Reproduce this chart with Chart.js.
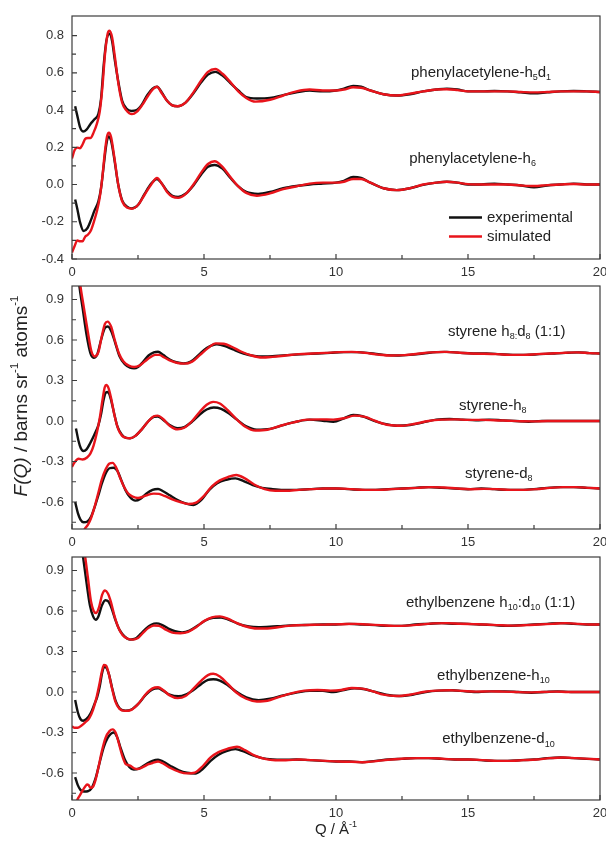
<!DOCTYPE html>
<html><head><meta charset="utf-8">
<script src="https://cdn.jsdelivr.net/npm/chart.js@4/dist/chart.umd.min.js"></script>
<style>
html,body{margin:0;padding:0;background:#fff;overflow:hidden;width:606px;height:841px;position:relative;}
canvas{position:absolute;left:0;}
</style></head><body>
<canvas id="c1" width="620" height="280" style="top:0px;width:620px;height:280px"></canvas>
<canvas id="c2" width="620" height="272" style="top:280px;width:620px;height:272px"></canvas>
<canvas id="c3" width="620" height="289" style="top:552px;width:620px;height:289px"></canvas>
<script>
// ---------- tick labels ----------
const xTicks = [0, 5, 10, 15, 20];
const xMinor = [2.5, 7.5, 12.5, 17.5];
const yTicks1 = [-0.4, -0.2, 0.0, 0.2, 0.4, 0.6, 0.8];
const yMinor1 = [-0.3, -0.1, 0.1, 0.3, 0.5, 0.7];
const yTicks23 = [-0.6, -0.3, 0.0, 0.3, 0.6, 0.9];
const yMinor23 = [-0.75, -0.45, -0.15, 0.15, 0.45, 0.75];

// ---------- data: [Q, F(Q)] ----------
// phenylacetylene-h5d1 (offset +0.5)
const pa_h5d1_exp = [[0.12,0.42],[0.2,0.37],[0.3,0.31],[0.42,0.285],[0.55,0.295],[0.7,0.325],[0.85,0.35],[1.0,0.38],[1.1,0.46],[1.2,0.64],[1.3,0.77],[1.42,0.81],[1.52,0.77],[1.62,0.67],[1.77,0.54],[1.9,0.45],[2.05,0.41],[2.25,0.395],[2.45,0.40],[2.65,0.43],[2.85,0.48],[3.05,0.515],[3.22,0.525],[3.4,0.495],[3.6,0.45],[3.8,0.425],[4.0,0.42],[4.3,0.44],[4.6,0.49],[4.9,0.55],[5.15,0.59],[5.43,0.605],[5.7,0.585],[6.0,0.545],[6.3,0.505],[6.6,0.47],[7.0,0.462],[7.5,0.465],[8.0,0.48],[8.5,0.495],[9.0,0.505],[9.5,0.50],[10.0,0.505],[10.3,0.515],[10.65,0.53],[10.95,0.525],[11.3,0.505],[11.8,0.485],[12.3,0.478],[12.8,0.485],[13.3,0.50],[13.8,0.51],[14.2,0.515],[14.6,0.51],[15.0,0.50],[15.5,0.50],[16.0,0.502],[16.5,0.50],[17.0,0.495],[17.5,0.49],[18.0,0.495],[18.5,0.50],[19.0,0.502],[19.5,0.50],[20,0.497]];
const pa_h5d1_sim = [[0,0.14],[0.1,0.185],[0.2,0.198],[0.3,0.195],[0.4,0.215],[0.5,0.245],[0.6,0.25],[0.7,0.25],[0.82,0.28],[0.95,0.33],[1.05,0.39],[1.15,0.52],[1.25,0.70],[1.35,0.81],[1.42,0.826],[1.52,0.79],[1.62,0.69],[1.77,0.53],[1.9,0.44],[2.05,0.40],[2.27,0.378],[2.45,0.39],[2.65,0.425],[2.85,0.47],[3.05,0.51],[3.22,0.525],[3.4,0.49],[3.6,0.45],[3.8,0.425],[4.0,0.42],[4.3,0.44],[4.6,0.495],[4.9,0.56],[5.15,0.605],[5.43,0.62],[5.7,0.595],[6.0,0.55],[6.3,0.50],[6.6,0.465],[6.95,0.445],[7.5,0.455],[8.0,0.478],[8.5,0.50],[9.0,0.51],[9.5,0.505],[10.0,0.505],[10.3,0.51],[10.65,0.522],[10.95,0.52],[11.3,0.505],[11.8,0.485],[12.3,0.478],[12.8,0.488],[13.3,0.50],[13.8,0.51],[14.2,0.512],[14.6,0.507],[15.0,0.50],[15.5,0.50],[16.0,0.50],[16.5,0.50],[17.0,0.497],[17.5,0.495],[18.0,0.497],[18.5,0.50],[19.0,0.50],[19.5,0.50],[20,0.497]];
// phenylacetylene-h6
const pa_h6_exp = [[0.12,-0.08],[0.2,-0.13],[0.3,-0.2],[0.44,-0.25],[0.58,-0.235],[0.72,-0.19],[0.85,-0.14],[1.0,-0.09],[1.1,-0.02],[1.2,0.1],[1.3,0.215],[1.38,0.258],[1.48,0.235],[1.6,0.14],[1.75,0.0],[1.9,-0.085],[2.1,-0.12],[2.27,-0.128],[2.5,-0.11],[2.75,-0.05],[3.0,0.005],[3.22,0.03],[3.4,0.005],[3.6,-0.035],[3.8,-0.06],[4.02,-0.067],[4.3,-0.05],[4.6,-0.005],[4.9,0.055],[5.15,0.095],[5.4,0.105],[5.7,0.085],[6.0,0.035],[6.3,-0.01],[6.6,-0.04],[7.05,-0.05],[7.5,-0.04],[8.0,-0.02],[8.5,-0.008],[9.0,0.0],[9.5,0.005],[10.0,0.01],[10.3,0.02],[10.65,0.04],[10.95,0.035],[11.3,0.01],[11.8,-0.02],[12.3,-0.03],[12.8,-0.02],[13.3,-0.002],[13.8,0.01],[14.2,0.015],[14.6,0.01],[15.0,0.0],[15.5,0.0],[16.0,0.005],[16.5,0.0],[17.0,-0.005],[17.5,-0.015],[18.0,-0.005],[18.5,0.0],[19.0,0.005],[19.5,0.0],[20,0.0]];
const pa_h6_sim = [[0,-0.365],[0.1,-0.33],[0.2,-0.30],[0.3,-0.305],[0.4,-0.305],[0.5,-0.28],[0.6,-0.27],[0.72,-0.245],[0.85,-0.19],[0.95,-0.14],[1.05,-0.07],[1.15,0.04],[1.25,0.18],[1.33,0.26],[1.4,0.278],[1.48,0.255],[1.6,0.15],[1.75,0.0],[1.9,-0.09],[2.1,-0.125],[2.27,-0.13],[2.5,-0.11],[2.75,-0.055],[3.0,0.0],[3.22,0.035],[3.4,0.005],[3.6,-0.04],[3.8,-0.065],[4.02,-0.072],[4.3,-0.052],[4.6,0.0],[4.9,0.065],[5.15,0.11],[5.4,0.125],[5.7,0.095],[6.0,0.04],[6.3,-0.01],[6.6,-0.045],[7.0,-0.06],[7.5,-0.048],[8.0,-0.025],[8.5,-0.01],[9.0,0.005],[9.5,0.01],[10.0,0.01],[10.3,0.015],[10.65,0.03],[10.95,0.03],[11.3,0.01],[11.8,-0.02],[12.3,-0.03],[12.8,-0.02],[13.3,0.0],[13.8,0.01],[14.2,0.015],[14.6,0.01],[15.0,0.002],[15.5,0.0],[16.0,0.0],[16.5,0.0],[17.0,-0.005],[17.5,-0.008],[18.0,-0.003],[18.5,0.0],[19.0,0.003],[19.5,0.0],[20,0.0]];
// styrene h8:d8 (offset +0.5)
const st_h8d8_exp = [[0.15,1.25],[0.28,1.0],[0.4,0.84],[0.55,0.64],[0.7,0.5],[0.82,0.468],[0.95,0.49],[1.1,0.6],[1.25,0.69],[1.36,0.70],[1.5,0.66],[1.65,0.57],[1.8,0.48],[2.0,0.42],[2.2,0.395],[2.35,0.39],[2.5,0.40],[2.7,0.44],[2.9,0.485],[3.1,0.508],[3.26,0.513],[3.45,0.49],[3.7,0.455],[3.95,0.435],[4.23,0.427],[4.5,0.44],[4.8,0.49],[5.1,0.54],[5.49,0.568],[5.8,0.555],[6.1,0.53],[6.5,0.50],[6.9,0.482],[7.3,0.478],[7.7,0.482],[8.3,0.49],[8.8,0.495],[9.3,0.50],[9.8,0.505],[10.3,0.51],[10.8,0.51],[11.3,0.502],[11.8,0.49],[12.3,0.485],[12.8,0.49],[13.3,0.50],[13.8,0.51],[14.2,0.512],[14.7,0.505],[15.2,0.50],[15.7,0.50],[16.2,0.495],[16.7,0.49],[17.2,0.49],[17.7,0.495],[18.2,0.50],[18.7,0.505],[19.2,0.508],[19.6,0.503],[20,0.50]];
const st_h8d8_sim = [[0.2,1.2],[0.32,1.0],[0.45,0.84],[0.6,0.66],[0.73,0.52],[0.86,0.478],[1.0,0.51],[1.12,0.62],[1.25,0.72],[1.35,0.736],[1.48,0.70],[1.62,0.60],[1.78,0.50],[1.95,0.44],[2.15,0.41],[2.35,0.40],[2.55,0.41],[2.75,0.44],[2.95,0.47],[3.15,0.49],[3.3,0.49],[3.5,0.47],[3.75,0.445],[4.0,0.43],[4.25,0.425],[4.55,0.44],[4.85,0.49],[5.15,0.54],[5.45,0.575],[5.75,0.572],[6.05,0.55],[6.4,0.515],[6.8,0.485],[7.2,0.47],[7.6,0.475],[8.1,0.485],[8.6,0.495],[9.1,0.50],[9.6,0.505],[10.1,0.51],[10.6,0.512],[11.1,0.505],[11.6,0.492],[12.1,0.485],[12.6,0.488],[13.1,0.498],[13.6,0.508],[14.1,0.512],[14.6,0.507],[15.1,0.50],[15.6,0.498],[16.1,0.495],[16.6,0.49],[17.1,0.49],[17.6,0.495],[18.1,0.50],[18.6,0.505],[19.1,0.508],[19.6,0.503],[20,0.50]];
// styrene-h8
const st_h8_exp = [[0.15,-0.055],[0.25,-0.15],[0.33,-0.2],[0.43,-0.222],[0.55,-0.21],[0.7,-0.16],[0.85,-0.1],[1.0,-0.03],[1.1,0.05],[1.2,0.16],[1.28,0.21],[1.36,0.215],[1.46,0.17],[1.58,0.07],[1.72,-0.04],[1.88,-0.1],[2.05,-0.125],[2.2,-0.128],[2.4,-0.11],[2.65,-0.06],[2.9,0.0],[3.1,0.03],[3.25,0.033],[3.45,0.01],[3.7,-0.03],[4.0,-0.053],[4.25,-0.045],[4.55,-0.005],[4.85,0.05],[5.1,0.085],[5.37,0.1],[5.65,0.09],[5.95,0.055],[6.25,0.01],[6.6,-0.04],[7.0,-0.064],[7.5,-0.058],[8.0,-0.03],[8.5,-0.005],[9.0,0.01],[9.5,0.002],[9.9,-0.005],[10.3,0.02],[10.65,0.045],[11.0,0.035],[11.4,0.005],[11.8,-0.02],[12.3,-0.035],[12.8,-0.03],[13.3,-0.01],[13.8,0.01],[14.3,0.015],[14.8,0.01],[15.3,0.005],[15.8,0.01],[16.3,0.005],[16.8,0.0],[17.3,-0.005],[17.8,0.0],[18.3,0.0],[18.8,0.0],[19.3,0.0],[20,0.0]];
const st_h8_sim = [[0,-0.34],[0.1,-0.305],[0.25,-0.28],[0.4,-0.285],[0.57,-0.27],[0.7,-0.24],[0.82,-0.18],[0.95,-0.08],[1.05,0.02],[1.15,0.15],[1.24,0.25],[1.3,0.267],[1.38,0.245],[1.48,0.17],[1.6,0.05],[1.75,-0.06],[1.9,-0.11],[2.05,-0.125],[2.2,-0.128],[2.4,-0.11],[2.65,-0.06],[2.9,0.0],[3.1,0.035],[3.25,0.04],[3.45,0.015],[3.7,-0.035],[4.0,-0.062],[4.25,-0.05],[4.55,0.0],[4.85,0.07],[5.1,0.12],[5.35,0.142],[5.6,0.13],[5.9,0.08],[6.2,0.02],[6.55,-0.04],[6.95,-0.07],[7.4,-0.065],[7.9,-0.035],[8.4,-0.01],[8.9,0.01],[9.4,0.012],[9.9,0.01],[10.3,0.02],[10.7,0.04],[11.1,0.03],[11.5,0.0],[12.0,-0.03],[12.5,-0.035],[13.0,-0.02],[13.5,0.0],[14.0,0.01],[14.5,0.012],[15.0,0.008],[15.5,0.008],[16.0,0.006],[16.5,0.002],[17.0,-0.002],[17.5,-0.003],[18.0,0.0],[18.5,0.0],[19.0,0.0],[19.5,0.0],[20,0.0]];
// styrene-d8 (offset -0.5)
const st_d8_exp = [[0.12,-0.6],[0.22,-0.68],[0.32,-0.73],[0.44,-0.75],[0.58,-0.745],[0.72,-0.71],[0.87,-0.63],[1.0,-0.55],[1.12,-0.47],[1.27,-0.39],[1.42,-0.35],[1.58,-0.346],[1.72,-0.37],[1.87,-0.44],[2.02,-0.51],[2.2,-0.565],[2.4,-0.59],[2.6,-0.575],[2.8,-0.54],[3.05,-0.51],[3.26,-0.504],[3.45,-0.52],[3.7,-0.55],[4.0,-0.585],[4.3,-0.61],[4.6,-0.622],[4.9,-0.585],[5.2,-0.51],[5.5,-0.46],[5.85,-0.435],[6.19,-0.425],[6.5,-0.445],[6.85,-0.475],[7.2,-0.495],[7.6,-0.505],[8.0,-0.51],[8.5,-0.51],[9.0,-0.505],[9.5,-0.50],[10.0,-0.50],[10.5,-0.505],[11.0,-0.51],[11.5,-0.51],[12.0,-0.505],[12.5,-0.50],[13.0,-0.495],[13.5,-0.49],[14.0,-0.495],[14.5,-0.50],[15.0,-0.505],[15.5,-0.50],[16.0,-0.505],[16.5,-0.51],[17.0,-0.51],[17.5,-0.505],[18.0,-0.495],[18.5,-0.49],[19.0,-0.49],[19.5,-0.495],[20,-0.50]];
const st_d8_sim = [[0.35,-0.86],[0.48,-0.8],[0.6,-0.77],[0.72,-0.72],[0.85,-0.64],[1.0,-0.53],[1.12,-0.44],[1.27,-0.36],[1.42,-0.315],[1.54,-0.31],[1.66,-0.34],[1.8,-0.41],[1.95,-0.48],[2.12,-0.535],[2.3,-0.56],[2.5,-0.57],[2.7,-0.56],[2.9,-0.545],[3.1,-0.538],[3.3,-0.54],[3.5,-0.555],[3.8,-0.58],[4.1,-0.6],[4.4,-0.615],[4.7,-0.605],[5.0,-0.555],[5.3,-0.485],[5.6,-0.44],[5.9,-0.415],[6.22,-0.4],[6.55,-0.425],[6.9,-0.47],[7.3,-0.505],[7.7,-0.517],[8.1,-0.517],[8.6,-0.51],[9.1,-0.505],[9.6,-0.50],[10.1,-0.50],[10.6,-0.505],[11.1,-0.51],[11.6,-0.51],[12.1,-0.505],[12.6,-0.50],[13.1,-0.495],[13.6,-0.49],[14.1,-0.493],[14.6,-0.50],[15.1,-0.505],[15.6,-0.503],[16.1,-0.505],[16.6,-0.51],[17.1,-0.51],[17.6,-0.505],[18.1,-0.495],[18.6,-0.49],[19.1,-0.49],[19.6,-0.495],[20,-0.50]];
// ethylbenzene h10:d10 (offset +0.5)
const eb_h10d10_exp = [[0.3,1.2],[0.42,1.0],[0.55,0.81],[0.68,0.64],[0.8,0.56],[0.9,0.535],[1.0,0.56],[1.13,0.64],[1.26,0.68],[1.38,0.67],[1.5,0.62],[1.65,0.53],[1.8,0.46],[2.0,0.41],[2.2,0.388],[2.4,0.395],[2.6,0.43],[2.8,0.47],[3.0,0.498],[3.2,0.508],[3.4,0.498],[3.65,0.47],[3.9,0.45],[4.17,0.442],[4.45,0.455],[4.75,0.49],[5.05,0.53],[5.35,0.55],[5.65,0.552],[5.95,0.535],[6.3,0.505],[6.7,0.485],[7.07,0.48],[7.5,0.483],[8.0,0.49],[8.5,0.495],[9.0,0.497],[9.5,0.50],[10.0,0.50],[10.5,0.505],[11.0,0.50],[11.5,0.495],[12.0,0.49],[12.5,0.49],[13.0,0.50],[13.5,0.505],[14.0,0.51],[14.5,0.506],[15.0,0.505],[15.5,0.50],[16.0,0.495],[16.5,0.49],[17.0,0.495],[17.5,0.50],[18.0,0.505],[18.5,0.51],[19.0,0.505],[19.5,0.50],[20,0.50]];
const eb_h10d10_sim = [[0.38,1.15],[0.5,1.0],[0.6,0.85],[0.72,0.67],[0.82,0.6],[0.92,0.585],[1.02,0.625],[1.14,0.72],[1.25,0.752],[1.36,0.73],[1.47,0.67],[1.6,0.57],[1.75,0.48],[1.92,0.42],[2.1,0.395],[2.3,0.388],[2.5,0.40],[2.7,0.44],[2.9,0.475],[3.1,0.493],[3.3,0.49],[3.5,0.468],[3.8,0.44],[4.1,0.435],[4.4,0.445],[4.7,0.48],[5.0,0.525],[5.3,0.553],[5.6,0.56],[5.9,0.543],[6.2,0.515],[6.6,0.485],[7.0,0.47],[7.4,0.47],[7.8,0.48],[8.2,0.49],[8.7,0.495],[9.2,0.498],[9.7,0.50],[10.2,0.502],[10.7,0.505],[11.2,0.50],[11.7,0.495],[12.2,0.49],[12.7,0.492],[13.2,0.50],[13.7,0.508],[14.2,0.51],[14.7,0.506],[15.2,0.503],[15.7,0.50],[16.2,0.495],[16.7,0.492],[17.2,0.495],[17.7,0.50],[18.2,0.505],[18.7,0.51],[19.2,0.505],[19.6,0.50],[20,0.50]];
// ethylbenzene-h10
const eb_h10_exp = [[0.12,-0.06],[0.22,-0.15],[0.32,-0.2],[0.42,-0.213],[0.55,-0.2],[0.7,-0.16],[0.85,-0.09],[0.95,-0.04],[1.05,0.04],[1.14,0.14],[1.22,0.186],[1.3,0.18],[1.4,0.13],[1.52,0.03],[1.66,-0.07],[1.82,-0.125],[2.02,-0.138],[2.25,-0.13],[2.5,-0.09],[2.8,-0.02],[3.05,0.02],[3.26,0.027],[3.45,0.01],[3.7,-0.02],[4.04,-0.032],[4.3,-0.02],[4.6,0.015],[4.9,0.06],[5.15,0.09],[5.35,0.095],[5.6,0.085],[5.9,0.05],[6.2,0.005],[6.6,-0.04],[7.07,-0.06],[7.5,-0.05],[8.0,-0.025],[8.5,-0.005],[9.0,0.008],[9.5,0.008],[9.9,0.0],[10.3,0.015],[10.7,0.028],[11.1,0.02],[11.5,0.0],[11.9,-0.02],[12.4,-0.03],[12.9,-0.02],[13.4,0.0],[13.9,0.01],[14.4,0.013],[14.9,0.005],[15.4,0.0],[15.9,0.005],[16.4,0.005],[16.9,0.0],[17.4,-0.005],[17.9,0.0],[18.4,0.005],[18.9,0.0],[19.4,0.0],[20,0.0]];
const eb_h10_sim = [[0,-0.255],[0.1,-0.265],[0.22,-0.265],[0.35,-0.25],[0.5,-0.225],[0.65,-0.195],[0.8,-0.13],[0.93,-0.04],[1.03,0.05],[1.13,0.15],[1.21,0.2],[1.29,0.195],[1.38,0.145],[1.5,0.04],[1.64,-0.07],[1.8,-0.125],[2.0,-0.14],[2.25,-0.132],[2.5,-0.09],[2.8,-0.015],[3.05,0.027],[3.26,0.035],[3.45,0.015],[3.7,-0.025],[4.0,-0.045],[4.3,-0.03],[4.6,0.025],[4.9,0.085],[5.15,0.125],[5.35,0.135],[5.6,0.115],[5.9,0.06],[6.2,0.0],[6.6,-0.05],[7.0,-0.07],[7.4,-0.065],[7.8,-0.04],[8.3,-0.01],[8.8,0.01],[9.3,0.015],[9.8,0.01],[10.2,0.015],[10.6,0.03],[11.0,0.025],[11.4,0.005],[11.8,-0.02],[12.3,-0.03],[12.8,-0.02],[13.3,0.0],[13.8,0.01],[14.3,0.013],[14.8,0.008],[15.3,0.003],[15.8,0.005],[16.3,0.003],[16.8,0.0],[17.3,-0.003],[17.8,0.0],[18.3,0.003],[18.8,0.0],[19.3,0.0],[20,0.0]];
// ethylbenzene-d10 (offset -0.5)
const eb_d10_exp = [[0.12,-0.63],[0.22,-0.69],[0.32,-0.725],[0.45,-0.737],[0.6,-0.735],[0.75,-0.71],[0.9,-0.635],[1.05,-0.52],[1.2,-0.41],[1.35,-0.34],[1.47,-0.31],[1.58,-0.30],[1.7,-0.33],[1.85,-0.42],[2.0,-0.5],[2.17,-0.555],[2.34,-0.575],[2.55,-0.565],[2.8,-0.535],[3.05,-0.51],[3.26,-0.502],[3.45,-0.515],[3.75,-0.55],[4.05,-0.58],[4.35,-0.598],[4.67,-0.604],[4.95,-0.57],[5.25,-0.51],[5.55,-0.465],[5.85,-0.437],[6.19,-0.423],[6.5,-0.44],[6.85,-0.47],[7.2,-0.49],[7.6,-0.5],[8.0,-0.502],[8.5,-0.50],[9.0,-0.505],[9.5,-0.51],[10.0,-0.515],[10.5,-0.515],[11.0,-0.52],[11.5,-0.51],[12.0,-0.50],[12.5,-0.495],[13.0,-0.49],[13.5,-0.49],[14.0,-0.495],[14.5,-0.50],[15.0,-0.50],[15.5,-0.505],[16.0,-0.51],[16.5,-0.51],[17.0,-0.505],[17.5,-0.50],[18.0,-0.49],[18.5,-0.485],[19.0,-0.49],[19.5,-0.495],[20,-0.50]];
const eb_d10_sim = [[0.12,-0.85],[0.2,-0.8],[0.3,-0.765],[0.4,-0.73],[0.5,-0.7],[0.57,-0.685],[0.63,-0.69],[0.7,-0.71],[0.8,-0.7],[0.9,-0.645],[1.0,-0.56],[1.13,-0.44],[1.27,-0.34],[1.42,-0.29],[1.54,-0.277],[1.65,-0.3],[1.76,-0.37],[1.9,-0.47],[2.02,-0.53],[2.1,-0.54],[2.2,-0.545],[2.35,-0.565],[2.5,-0.57],[2.7,-0.555],[2.9,-0.535],[3.05,-0.526],[3.26,-0.515],[3.45,-0.53],[3.75,-0.565],[4.05,-0.59],[4.35,-0.603],[4.65,-0.597],[4.95,-0.55],[5.25,-0.485],[5.55,-0.445],[5.9,-0.42],[6.25,-0.405],[6.55,-0.43],[6.9,-0.47],[7.3,-0.495],[7.7,-0.505],[8.1,-0.505],[8.6,-0.50],[9.1,-0.505],[9.6,-0.51],[10.1,-0.515],[10.6,-0.517],[11.1,-0.52],[11.6,-0.51],[12.1,-0.50],[12.6,-0.493],[13.1,-0.49],[13.6,-0.49],[14.1,-0.495],[14.6,-0.50],[15.1,-0.50],[15.6,-0.505],[16.1,-0.51],[16.6,-0.51],[17.1,-0.505],[17.6,-0.50],[18.1,-0.49],[18.6,-0.485],[19.1,-0.49],[19.6,-0.495],[20,-0.50]];

// ---------- styling ----------
const BLACK = '#111111', RED = '#e8141b';
const FONT = '"Liberation Sans", Arial, Helvetica, sans-serif';
const AXIS_COLOR = '#3c3c3c', TEXT_COLOR = '#222';

function drawRich(ctx, parts, x, y, size, align) {
  const widths = parts.map(p => {
    const s = (p.sub || p.sup) ? size * 0.6 : size;
    ctx.font = (p.it ? 'italic ' : '') + s + 'px ' + FONT;
    return ctx.measureText(p.t).width;
  });
  const total = widths.reduce((a, b) => a + b, 0);
  let cx = align === 'center' ? x - total / 2 : x;
  parts.forEach((p, i) => {
    const s = (p.sub || p.sup) ? size * 0.6 : size;
    ctx.font = (p.it ? 'italic ' : '') + s + 'px ' + FONT;
    const dy = p.sub ? size * 0.32 : p.sup ? -size * 0.36 : 0;
    ctx.fillText(p.t, cx, y + dy);
    cx += widths[i];
  });
}

function framePlugin(cfg) {
  return {
    id: 'frame' + cfg.id,
    afterDraw(chart) {
      const { ctx, chartArea: a, scales: { x, y } } = chart;
      ctx.save();
      ctx.strokeStyle = AXIS_COLOR;
      ctx.lineWidth = 1.2;
      ctx.strokeRect(a.left, a.top, a.right - a.left, a.bottom - a.top);
      ctx.beginPath();
      xTicks.forEach(v => { const p = x.getPixelForValue(v); ctx.moveTo(p, a.bottom); ctx.lineTo(p, a.bottom - 5); });
      xMinor.forEach(v => { const p = x.getPixelForValue(v); ctx.moveTo(p, a.bottom); ctx.lineTo(p, a.bottom - 4); });
      cfg.yTicks.forEach(v => { const p = y.getPixelForValue(v); ctx.moveTo(a.left, p); ctx.lineTo(a.left + 5, p); });
      cfg.yMinor.forEach(v => { const p = y.getPixelForValue(v); ctx.moveTo(a.left, p); ctx.lineTo(a.left + 4, p); });
      ctx.stroke();
      ctx.fillStyle = TEXT_COLOR;
      ctx.textBaseline = 'middle';
      ctx.textAlign = 'left';
      (cfg.labels || []).forEach(l => drawRich(ctx, l.parts, x.getPixelForValue(l.q), y.getPixelForValue(l.v), 15, 'left'));
      if (cfg.legend) {
        cfg.legend.forEach(l => {
          const py = y.getPixelForValue(l.v);
          ctx.strokeStyle = l.color; ctx.lineWidth = 2.6;
          ctx.beginPath(); ctx.moveTo(x.getPixelForValue(l.q0), py); ctx.lineTo(x.getPixelForValue(l.q1), py); ctx.stroke();
          ctx.fillStyle = TEXT_COLOR;
          drawRich(ctx, [{ t: l.text }], x.getPixelForValue(l.q1) + 5, py, 15, 'left');
        });
      }
      if (cfg.yTitle) {
        ctx.save();
        ctx.translate(cfg.yTitle.x, cfg.yTitle.y);
        ctx.rotate(-Math.PI / 2);
        drawRich(ctx, cfg.yTitle.parts, 0, 0, 19, 'center');
        ctx.restore();
      }
      if (cfg.xTitle) {
        drawRich(ctx, cfg.xTitle.parts, (a.left + a.right) / 2, a.bottom + cfg.xTitle.dy, 15, 'center');
      }
      ctx.restore();
    }
  };
}

function makePanel(cfg) {
  const canvas = document.getElementById(cfg.id);
  const H = canvas.height;
  new Chart(canvas, {
    type: 'line',
    data: {
      datasets: cfg.series.map(s => ({
        data: s.pts.map(p => ({ x: p[0], y: p[1] })),
        borderColor: s.color,
        borderWidth: 2.4,
        pointRadius: 0,
        fill: false,
        cubicInterpolationMode: 'monotone',
        order: s.color === RED ? 0 : 1
      }))
    },
    options: {
      responsive: false,
      animation: false,
      events: [],
      layout: { padding: { top: cfg.top, right: 20, left: 0, bottom: 0 } },
      plugins: { legend: { display: false }, tooltip: { enabled: false } },
      scales: {
        x: {
          type: 'linear', min: 0, max: 20,
          afterBuildTicks(s) { s.ticks = xTicks.map(v => ({ value: v })); },
          afterFit(s) { s.height = H - cfg.top - 243; s.paddingLeft = 0; s.paddingRight = 0; },
          grid: { display: false, drawTicks: false },
          border: { display: false },
          ticks: { padding: 6, color: '#333', font: { family: FONT, size: 13 }, maxRotation: 0, autoSkip: false, callback: v => String(v) }
        },
        y: {
          type: 'linear', min: cfg.ymin, max: cfg.ymax,
          afterBuildTicks(s) { s.ticks = cfg.yTicks.map(v => ({ value: v })); },
          afterFit(s) { s.width = 72; s.paddingTop = 0; s.paddingBottom = 0; },
          grid: { display: false, drawTicks: false },
          border: { display: false },
          ticks: { padding: 8, color: '#333', font: { family: FONT, size: 13 }, autoSkip: false, callback: v => v.toFixed(1) }
        }
      }
    },
    plugins: [framePlugin(cfg)]
  });
}

makePanel({
  id: 'c1', top: 16, ymin: -0.4, ymax: 0.905, yTicks: yTicks1, yMinor: yMinor1,
  series: [
    { pts: pa_h5d1_exp, color: BLACK }, { pts: pa_h5d1_sim, color: RED },
    { pts: pa_h6_exp, color: BLACK }, { pts: pa_h6_sim, color: RED }
  ],
  labels: [
    { q: 12.84, v: 0.60, parts: [{ t: 'phenylacetylene-h' }, { t: '5', sub: true }, { t: 'd' }, { t: '1', sub: true }] },
    { q: 12.77, v: 0.14, parts: [{ t: 'phenylacetylene-h' }, { t: '6', sub: true }] }
  ],
  legend: [
    { q0: 14.28, q1: 15.53, v: -0.177, color: BLACK, text: 'experimental' },
    { q0: 14.28, q1: 15.53, v: -0.279, color: RED, text: 'simulated' }
  ]
});

makePanel({
  id: 'c2', top: 6, ymin: -0.8, ymax: 1.0, yTicks: yTicks23, yMinor: yMinor23,
  series: [
    { pts: st_h8d8_exp, color: BLACK }, { pts: st_h8d8_sim, color: RED },
    { pts: st_h8_exp, color: BLACK }, { pts: st_h8_sim, color: RED },
    { pts: st_d8_exp, color: BLACK }, { pts: st_d8_sim, color: RED }
  ],
  labels: [
    { q: 14.24, v: 0.66, parts: [{ t: 'styrene h' }, { t: '8', sub: true }, { t: ':', sub: true }, { t: 'd' }, { t: '8', sub: true }, { t: ' (1:1)' }] },
    { q: 14.66, v: 0.11, parts: [{ t: 'styrene-h' }, { t: '8', sub: true }] },
    { q: 14.89, v: -0.39, parts: [{ t: 'styrene-d' }, { t: '8', sub: true }] }
  ],
  yTitle: { x: 22, y: 116, parts: [{ t: 'F(Q)', it: true }, { t: ' / barns sr' }, { t: '-1', sup: true }, { t: ' atoms' }, { t: '-1', sup: true }] }
});

makePanel({
  id: 'c3', top: 5, ymin: -0.8, ymax: 1.0, yTicks: yTicks23, yMinor: yMinor23,
  series: [
    { pts: eb_h10d10_exp, color: BLACK }, { pts: eb_h10d10_sim, color: RED },
    { pts: eb_h10_exp, color: BLACK }, { pts: eb_h10_sim, color: RED },
    { pts: eb_d10_exp, color: BLACK }, { pts: eb_d10_sim, color: RED }
  ],
  labels: [
    { q: 12.65, v: 0.66, parts: [{ t: 'ethylbenzene h' }, { t: '10', sub: true }, { t: ':d' }, { t: '10', sub: true }, { t: ' (1:1)' }] },
    { q: 13.83, v: 0.12, parts: [{ t: 'ethylbenzene-h' }, { t: '10', sub: true }] },
    { q: 14.02, v: -0.35, parts: [{ t: 'ethylbenzene-d' }, { t: '10', sub: true }] }
  ],
  xTitle: { dy: 30, parts: [{ t: 'Q / Å' }, { t: '-1', sup: true }] }
});
</script>
</body></html>
